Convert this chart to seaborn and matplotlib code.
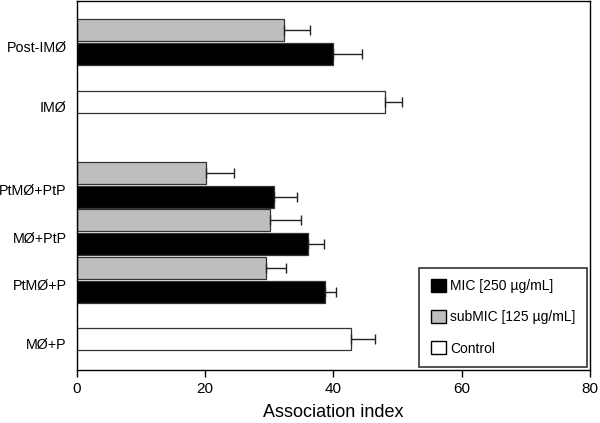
"""Association index by macrophage / parasite treatment (horizontal bars)."""

import matplotlib
matplotlib.use('Agg')
import matplotlib.pyplot as plt
import numpy as np
import pandas as pd
import seaborn as sns
from matplotlib.patches import Patch

# --- data (top to bottom) ---
groups = ['Post-IMØ', 'IMØ', 'PtMØ+PtP', 'MØ+PtP', 'PtMØ+P', 'MØ+P']
mic = [40.0, np.nan, 30.8, 36.0, 38.7, np.nan]
mic_err = [4.5, np.nan, 3.5, 2.5, 1.7, np.nan]
submic = [32.3, np.nan, 20.1, 30.1, 29.6, np.nan]
submic_err = [4.1, np.nan, 4.4, 4.9, 3.0, np.nan]
control = [np.nan, 48.1, np.nan, np.nan, np.nan, 42.8]
control_err = [np.nan, 2.6, np.nan, np.nan, np.nan, 3.7]

series = ['MIC [250 µg/mL]', 'subMIC [125 µg/mL]', 'Control']
colors = {series[0]: '#000000', series[1]: '#bebebe', series[2]: '#ffffff'}

# row layout: one row per bar, blank rows make the gaps
row_order = ['Post-IMØ|s', 'Post-IMØ|m', 'gap1', 'IMØ|c', 'gap2', 'gap3',
             'PtMØ+PtP|s', 'PtMØ+PtP|m', 'MØ+PtP|s', 'MØ+PtP|m',
             'PtMØ+P|s', 'PtMØ+P|m', 'gap4', 'MØ+P|c']

records = []
for g, m, me, s, se, c, ce in zip(groups, mic, mic_err, submic, submic_err,
                                  control, control_err):
    if not np.isnan(s):
        records.append((g + '|s', g, series[1], s, se))
    if not np.isnan(m):
        records.append((g + '|m', g, series[0], m, me))
    if not np.isnan(c):
        records.append((g + '|c', g, series[2], c, ce))
df = pd.DataFrame(records, columns=['row', 'group', 'series', 'value', 'err'])

sns.set_theme(style='white')
plt.rcParams['font.family'] = ['Liberation Sans', 'DejaVu Sans']
plt.rcParams['text.color'] = 'black'
plt.rcParams['xtick.color'] = 'black'
plt.rcParams['ytick.color'] = 'black'
plt.rcParams['axes.labelcolor'] = 'black'

fig = plt.figure(figsize=(6, 4.23), dpi=100)
ax = fig.add_axes([0.1275, 0.125, 0.8558, 0.873])

sns.barplot(data=df, y='row', x='value', hue='series', order=row_order,
            hue_order=series, palette=colors, dodge=False, width=0.93,
            errorbar=None, orient='h', edgecolor='#333333', linewidth=0.9,
            legend=False, ax=ax)

ypos = df['row'].map({r: i for i, r in enumerate(row_order)})
ax.errorbar(df['value'], ypos, xerr=[np.zeros(len(df)), df['err']],
            fmt='none', ecolor='#222222', elinewidth=1.0, capsize=3.6,
            capthick=1.0)

# group labels centred on each group's bars
centers = []
for g in groups:
    idx = [i for i, r in enumerate(row_order) if r.split('|')[0] == g]
    centers.append(np.mean(idx) + 0.2)
ax.set_yticks(centers)
ax.set_yticklabels(groups, fontsize=10.3)
ax.tick_params(axis='y', length=0, pad=7)

ax.set_xlim(0, 80)
ax.set_ylim(14.3, -1.24)
ax.set_xticks([0, 20, 40, 60, 80])
ax.tick_params(axis='x', direction='out', length=5, width=1, labelsize=11,
               bottom=True, color='black')
ax.set_xlabel('Association index', fontsize=13, labelpad=6)
ax.set_ylabel('')
for sp in ax.spines.values():
    sp.set_color('black')
    sp.set_linewidth(1.0)

handles = [Patch(facecolor=colors[s], edgecolor='black', linewidth=1.0)
           for s in series]
leg = ax.legend(handles, series, loc='lower right', fontsize=10,
                frameon=True, fancybox=False, edgecolor='black',
                borderaxespad=0.25, handlelength=1.1, handleheight=1.1,
                handletextpad=0.3, labelspacing=1.2, borderpad=0.8)
leg.get_frame().set_linewidth(1.2)

fig.savefig('out.png', dpi=100)
